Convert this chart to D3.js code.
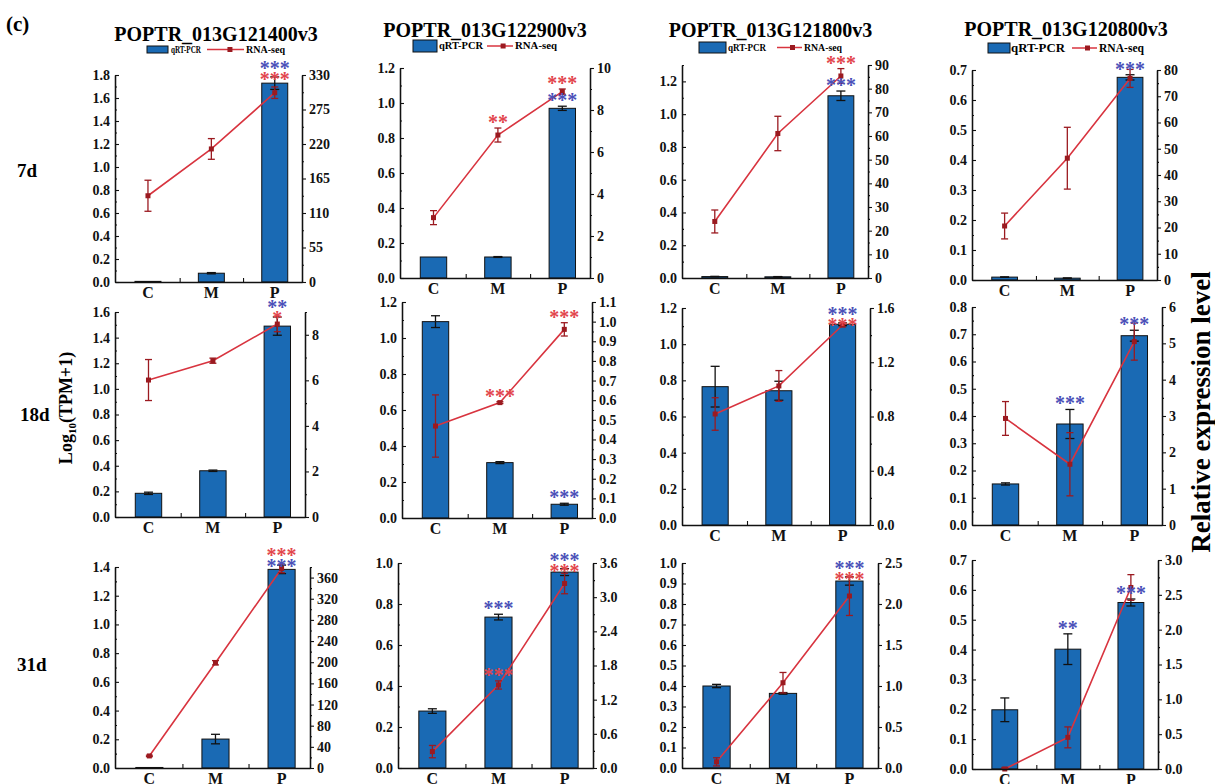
<!DOCTYPE html>
<html>
<head>
<meta charset="utf-8">
<script src="https://cdn.jsdelivr.net/npm/d3@7"></script>
<style>
  body { margin: 0; background: #fff; }
  svg { display: block; }
  text { font-family: "Liberation Serif", "Times New Roman", serif; font-weight: bold; }
</style>
</head>
<body>
<svg id="chart" width="1215" height="784"></svg>
<script>
// ---- data -------------------------------------------------------------
const genes = ["POPTR_013G121400v3", "POPTR_013G122900v3", "POPTR_013G121800v3", "POPTR_013G120800v3"];
const days = ["7d", "18d", "31d"];
const groups = ["C", "M", "P"];

// qRT-PCR relative expression (bars, right axis) — [day][gene][group]
const qpcrMean = [
  [[1, 14, 317], [1, 1, 8.08], [0.6, 0.5, 77], [1.1, 0.7, 77.2]],
  [[1.04, 2.03, 8.38], [1.0, 0.282, 0.07], [1.02, 0.99, 1.48], [1.13, 2.78, 5.21]],
  [[1, 54.7, 375.5], [1.0, 2.65, 3.44], [1.0, 0.91, 2.28], [0.85, 1.72, 2.39]]
];
const qpcrErr = [
  [[0, 1, 10], [0, 0.02, 0.1], [0.1, 0.1, 2], [0.1, 0.1, 1]],
  [[0.05, 0.03, 0.4], [0.03, 0.005, 0.005], [0.15, 0.07, 0.01], [0.03, 0.4, 0.15]],
  [[0, 9, 8], [0.04, 0.05, 0.06], [0.02, 0.01, 0.05], [0.17, 0.22, 0.05]]
];

// RNA-seq Log10(TPM+1) (line, left axis) — [day][gene][group]
const rnaMean = [
  [[0.75, 1.157, 1.646], [0.345, 0.817, 1.065], [0.345, 0.882, 1.233], [0.18, 0.406, 0.672]],
  [[1.069, 1.22, 1.506], [0.511, 0.641, 1.048], [0.614, 0.769, 1.106], [0.391, 0.223, 0.673]],
  [[0.084, 0.733, 1.39], [0.08, 0.405, 0.90], [0.03, 0.416, 0.839], [0.0, 0.106, 0.608]]
];
const rnaErr = [
  [[0.135, 0.09, 0.05], [0.04, 0.04, 0.015], [0.07, 0.105, 0.045], [0.043, 0.103, 0.03]],
  [[0.16, 0.02, 0.06], [0.173, 0.005, 0.037], [0.09, 0.085, 0.01], [0.062, 0.116, 0.068]],
  [[0.005, 0.015, 0.03], [0.03, 0.02, 0.05], [0.02, 0.05, 0.095], [0.005, 0.035, 0.043]]
];

// significance marks
const qpcrStars = [
  [["", "", "***"], ["", "", "***"], ["", "", "***"], ["", "", "***"]],
  [["", "", "**"], ["", "", "***"], ["", "", "***"], ["", "***", "***"]],
  [["", "", "***"], ["", "***", "***"], ["", "", "***"], ["", "**", "***"]]
];
const rnaStars = [
  [["", "", "***"], ["", "**", "***"], ["", "", "***"], ["", "", ""]],
  [["", "", "*"], ["", "***", "***"], ["", "", "***"], ["", "", ""]],
  [["", "", "***"], ["", "***", "***"], ["", "", "***"], ["", "", ""]]
];
// panels where the RNA-seq marks sit above the qRT-PCR marks
const rnaStarsOnTop = ["31d|POPTR_013G121400v3"];

// axis ranges and tick steps
const leftMax = [[1.8, 1.2, 1.3, 0.7], [1.6, 1.2, 1.2, 0.8], [1.4, 1.0, 1.0, 0.7]];
const leftStep = [[0.2, 0.2, 0.2, 0.1], [0.2, 0.2, 0.2, 0.1], [0.2, 0.2, 0.1, 0.1]];
const rightMax = [[330, 10, 90, 80], [9, 1.1, 1.6, 6], [380, 3.6, 2.5, 3.0]];
const rightStep = [[55, 2, 10, 10], [2, 0.1, 0.4, 1], [40, 0.6, 0.5, 0.5]];

// ---- layout -----------------------------------------------------------
// plot boxes [left, right, top, bottom] per row / column
const boxes = [
  [[115, 302, 75, 282], [400, 590, 68, 278], [682, 868, 65, 278], [972, 1157, 70, 280]],
  [[115, 305, 312, 517], [402, 592, 302, 518], [682, 870, 308, 525], [972, 1162, 307, 525]],
  [[115, 310, 567, 768], [398, 593, 563, 768], [682, 878, 563, 768], [972, 1158, 560, 769]]
];
// column headers: title baseline, legend centre line, legend pieces
const headers = [
  { ty: 41, ly: 49.5, rh: 7, rect: [147, 168], t1: [171, 201], line: [207, 244], t2: [246, 285], fs: 10 },
  { ty: 36.5, ly: 46, rh: 12, rect: [413, 437], t1: [439, 483], line: [487, 513], t2: [515, 557], fs: 10.5 },
  { ty: 36.5, ly: 47.5, rh: 11, rect: [699, 726], t1: [728, 766], line: [777, 802], t2: [804, 842], fs: 10 },
  { ty: 36, ly: 48, rh: 10, rect: [988, 1010], t1: [1011, 1065], line: [1072, 1097], t2: [1099, 1144], fs: 13 }
];
const rowLabels = [{ x: 17, y: 177 }, { x: 20, y: 421 }, { x: 17, y: 671 }];

const BLUE = "#1a6ab4";
const LINE_RED = "#d8343f";
const DARK_RED = "#9b1a20";
const STAR_BLUE = "#4a50b8";
const STAR_RED = "#e2454c";

const svg = d3.select("#chart");

svg.append("text").attr("x", 6).attr("y", 31).attr("font-size", 21).text("(c)");

rowLabels.forEach((p, r) => {
  svg.append("text").attr("x", p.x).attr("y", p.y).attr("font-size", 19).text(days[r]);
});

// left axis title: Log10(TPM+1)
const lt = svg.append("text")
  .attr("transform", "translate(72,408) rotate(-90)")
  .attr("text-anchor", "middle").attr("font-size", 18);
lt.append("tspan").text("Log");
lt.append("tspan").attr("font-size", 11).attr("dy", 4).text("10");
lt.append("tspan").attr("dy", -4).text("(TPM+1)");

// right axis title
svg.append("text")
  .attr("transform", "translate(1210,412) rotate(-90)")
  .attr("text-anchor", "middle").attr("font-size", 27)
  .text("Relative expression level");

// column titles and legends
genes.forEach((gene, c) => {
  const h = headers[c];
  const [x0, x1] = boxes[0][c];
  svg.append("text").attr("x", (h.rect[0] + h.t2[1]) / 2).attr("y", h.ty)
    .attr("text-anchor", "middle").attr("font-size", 20).text(gene);

  svg.append("rect").attr("x", h.rect[0]).attr("y", h.ly - h.rh / 2)
    .attr("width", h.rect[1] - h.rect[0]).attr("height", h.rh)
    .attr("fill", BLUE).attr("stroke", "#111").attr("stroke-width", 1);
  svg.append("text").attr("x", h.t1[0]).attr("y", h.ly + h.fs * 0.33)
    .attr("font-size", h.fs).attr("textLength", h.t1[1] - h.t1[0])
    .attr("lengthAdjust", "spacingAndGlyphs").text("qRT-PCR");
  svg.append("line").attr("x1", h.line[0]).attr("x2", h.line[1])
    .attr("y1", h.ly).attr("y2", h.ly).attr("stroke", LINE_RED).attr("stroke-width", 1.5);
  const mx = h.line[0] + (h.line[1] - h.line[0]) * 0.62;
  svg.append("rect").attr("x", mx - 2.5).attr("y", h.ly - 2.5).attr("width", 5).attr("height", 5)
    .attr("fill", DARK_RED);
  svg.append("text").attr("x", h.t2[0]).attr("y", h.ly + h.fs * 0.33)
    .attr("font-size", h.fs).attr("textLength", h.t2[1] - h.t2[0])
    .attr("lengthAdjust", "spacingAndGlyphs").text("RNA-seq");
});

function ticks(max, step) {
  const n = Math.floor(max / step + 1e-6);
  return d3.range(n + 1).map(i => +(i * step).toFixed(6));
}
function minorTicks(max, step) {
  const n = Math.floor(max / (step / 2) + 1e-6);
  return d3.range(n + 1).map(i => +(i * step / 2).toFixed(6)).filter((v, i) => i % 2 === 1);
}
function styleAxis(sel) {
  sel.attr("font-family", null).attr("font-size", 14);
  sel.selectAll("path.domain").attr("stroke", "#111").attr("stroke-width", 1.3);
  sel.selectAll(".tick line").attr("stroke", "#111").attr("stroke-width", 1.1);
  sel.selectAll(".tick text").attr("fill", "#111");
}

days.forEach((day, r) => {
  genes.forEach((gene, c) => {
    const [x0, x1, yT, yB] = boxes[r][c];
    const x = d3.scaleLinear().domain([0.48, 3.43]).range([x0, x1]);
    const step = x(2) - x(1);
    const bw = step * 0.41;
    const yL = d3.scaleLinear().domain([0, leftMax[r][c]]).range([yB, yT]);
    const yR = d3.scaleLinear().domain([0, rightMax[r][c]]).range([yB, yT]);
    const g = svg.append("g");

    const qm = qpcrMean[r][c], qe = qpcrErr[r][c];
    const rm = rnaMean[r][c], re = rnaErr[r][c];

    // bars (qRT-PCR)
    g.selectAll("rect.bar").data(groups).join("rect")
      .attr("class", "bar")
      .attr("x", (d, i) => x(i + 1) - bw / 2)
      .attr("width", bw)
      .attr("y", (d, i) => yR(qm[i]))
      .attr("height", (d, i) => yB - yR(qm[i]))
      .attr("fill", BLUE).attr("stroke", "#111").attr("stroke-width", 1);

    // bar error bars
    const drawErr = (mean, err, yS, color, cap) => {
      groups.forEach((d, i) => {
        if (!err[i]) return;
        const cx = x(i + 1);
        const lo = yS(Math.max(0, mean[i] - err[i])), hi = yS(mean[i] + err[i]);
        g.append("line").attr("x1", cx).attr("x2", cx).attr("y1", lo).attr("y2", hi)
          .attr("stroke", color).attr("stroke-width", 1.3);
        [lo, hi].forEach(yy => g.append("line")
          .attr("x1", cx - cap / 2).attr("x2", cx + cap / 2).attr("y1", yy).attr("y2", yy)
          .attr("stroke", color).attr("stroke-width", 1.3));
      });
    };
    drawErr(qm, qe, yR, "#111", 9);

    // line (RNA-seq)
    const line = d3.line().x((d, i) => x(i + 1)).y(d => yL(d));
    g.append("path").datum(rm).attr("d", line)
      .attr("fill", "none").attr("stroke", LINE_RED).attr("stroke-width", 1.6);
    drawErr(rm, re, yL, DARK_RED, 7);
    g.selectAll("rect.mk").data(rm).join("rect").attr("class", "mk")
      .attr("x", (d, i) => x(i + 1) - 2.5).attr("y", d => yL(d) - 2.5)
      .attr("width", 5).attr("height", 5).attr("fill", DARK_RED);

    // axes
    const ls = leftStep[r][c], rs = rightStep[r][c];
    const gl = g.append("g").attr("transform", `translate(${x0},0)`)
      .call(d3.axisLeft(yL).tickValues(ticks(leftMax[r][c], ls)).tickSize(-4).tickSizeOuter(0)
        .tickPadding(5).tickFormat(d3.format(".1f")));
    styleAxis(gl);
    const glm = g.append("g").attr("transform", `translate(${x0},0)`)
      .call(d3.axisLeft(yL).tickValues(minorTicks(leftMax[r][c], ls)).tickSize(-2).tickSizeOuter(0).tickFormat(""));
    styleAxis(glm);

    const rfmt = rs < 1 ? d3.format(".1f") : d3.format("d");
    const gr = g.append("g").attr("transform", `translate(${x1},0)`)
      .call(d3.axisRight(yR).tickValues(ticks(rightMax[r][c], rs)).tickSize(4).tickSizeOuter(0)
        .tickPadding(3).tickFormat(rfmt));
    styleAxis(gr);
    const grm = g.append("g").attr("transform", `translate(${x1},0)`)
      .call(d3.axisRight(yR).tickValues(minorTicks(rightMax[r][c], rs)).tickSize(2).tickSizeOuter(0).tickFormat(""));
    styleAxis(grm);

    const gb = g.append("g").attr("transform", `translate(0,${yB})`)
      .call(d3.axisBottom(x).tickValues([1.5, 2.5]).tickSize(-4).tickSizeOuter(0).tickFormat(""));
    styleAxis(gb);
    g.selectAll("text.xl").data(groups).join("text").attr("class", "xl")
      .attr("x", (d, i) => x(i + 1)).attr("y", yB + 16)
      .attr("text-anchor", "middle").attr("font-size", 16).attr("fill", "#111").text(d => d);

    // significance marks
    const onTop = rnaStarsOnTop.includes(day + "|" + gene);
    groups.forEach((d, i) => {
      const sq = qpcrStars[r][c][i], sr = rnaStars[r][c][i];
      let aq = yR(qm[i] + qe[i]) - 9, ar = yL(rm[i] + re[i]) - 9;
      if (sq && sr && Math.abs(aq - ar) < 14) {
        const top = Math.min(aq, ar) - 3;
        if (onTop) { ar = top; aq = top + 11; } else { aq = top; ar = top + 11; }
      }
      const put = (s, cy, col) => g.append("text").attr("x", x(i + 1)).attr("y", cy + 10)
        .attr("text-anchor", "middle").attr("font-size", 20).attr("fill", col).text(s);
      if (sr) put(sr, ar, STAR_RED);
      if (sq) put(sq, aq, STAR_BLUE);
    });
  });
});
</script>
</body>
</html>
